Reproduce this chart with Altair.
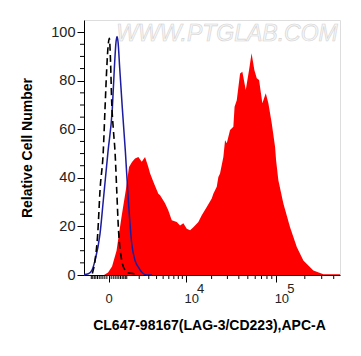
import altair as alt
import pandas as pd

FONT = "Liberation Sans"

# ---- data (x in fluorescence units, y in % of max) ----
red_x = [-241, -45, 141, 372, 660, 949, 1161, 1387, 1630, 1921, 2243, 2582, 2947, 3149,
         3654, 4252, 4508, 5319, 5911, 6572, 7642, 8423, 9270, 10211, 11202, 12274,
         14070, 15415, 17605, 20070, 20925, 22857, 23820, 24871, 27075, 28272, 29526,
         32091, 34865, 35948, 37981, 41249, 43662, 47519, 51566, 54853, 58748, 62339,
         65949, 71516, 77710, 82802, 89946, 97451, 99902, 105583, 119187, 140144,
         164806, 193154, 245670, 312265, 465000]
red_y = [0, 1, 3.5, 10, 24, 35.5, 44.5, 46.5, 48, 48.6, 46.6, 48.6, 44.5, 41.9,
         37.7, 33.5, 32.8, 29.5, 26.6, 22.5, 21.8, 20.4, 21.3, 19, 18.4, 19.7,
         21.8, 24.6, 28, 31.5, 33.5, 36.3, 40.4, 41.8, 48.6, 55.5, 54.2,
         59.7, 61, 69.3, 72, 83, 83.7, 76.2, 84.4, 91.3, 84.4, 81,
         80.3, 70.7, 74.8, 70.7, 62.4, 52.8, 47.3, 39, 29.4, 19.7,
         11.5, 6, 1.9, 0.3, 0.3]

blue_x = [-1549, -1212, -950, -752, -454, -277, -45, 155, 256, 345, 399, 455, 552, 709,
          903, 1110, 1364, 1630, 1921, 2273, 2768, 3395]
blue_y = [0.2, 0.5, 2, 6, 17, 30.8, 51, 68.6, 85, 96, 98.2, 96, 85, 68.6,
          51, 30.8, 12.9, 6, 3.2, 1, 0, 0]

dash_x = [-929, -752, -587, -454, -277, -190, -107, -45, 14, 69, 126, 205, 292, 382,
          472, 672, 882, 1110, 1467, 1893]
dash_y = [0.6, 6, 17, 35, 51.4, 68.6, 85, 94, 97.5, 88, 71, 60, 50.7, 35,
          19.7, 6, 2, 0.8, 0.6, 0]

x_major = [0, 10000, 100000]
x_minor = ([-1000, -900, -800, -700, -600, -500, -400, -300, -200, -100]
           + [100, 200, 300, 400, 500, 600, 700, 800, 900]
           + [1000, 2000, 3000, 4000, 5000, 6000, 7000, 8000, 9000]
           + [20000, 30000, 40000, 50000, 60000, 70000, 80000, 90000]
           + [200000, 300000, 400000])
y_major = [0, 20, 40, 60, 80, 100]
y_minor = [5, 10, 15, 25, 30, 35, 45, 50, 55, 65, 70, 75, 85, 90, 95]

x_label_vals = [0, 10000, 100000]
x_label_base = ["0", "10", "10"]
x_label_sup = ["", "4", "5"]

watermark = ["WWW.PTGLAB.COM"]

# ---- scales / axes ----
xscale = alt.Scale(type="symlog", constant=1900, domain=[-1550, 465000], nice=False)
yscale = alt.Scale(domain=[0, 105], nice=False, zero=False)

x_axis = alt.Axis(values=x_major, labels=False, tickSize=7, tickColor="black",
                  domainColor="black", grid=False,
                  title="CL647-98167(LAG-3/CD223),APC-A", titleFont=FONT,
                  titleFontSize=14, titleFontWeight="bold", titleColor="black",
                  titleX=125, titleY=50, titleBaseline="middle")
y_axis = alt.Axis(values=y_major, tickSize=7, tickColor="black", domainColor="black",
                  grid=False, labelFont=FONT, labelFontSize=14.5, labelColor="#222222",
                  labelPadding=2, title="Relative Cell Number", titleFont=FONT,
                  titleFontSize=14, titleFontWeight="bold", titleColor="black",
                  titleX=-57, titleBaseline="middle")

X = lambda f: alt.X(f, type="quantitative", scale=xscale, axis=x_axis)
Y = lambda f: alt.Y(f, type="quantitative", scale=yscale, axis=y_axis)

red_df = pd.DataFrame({"x": red_x, "y": red_y})
blue_df = pd.DataFrame({"x": blue_x, "y": blue_y})
dash_df = pd.DataFrame({"x": dash_x, "y": dash_y})

wm = alt.Chart(pd.DataFrame({"t": watermark})).mark_text(
    font=FONT, fontSize=23, fontStyle="italic", fill="#f7f7f7", stroke="#d2d2d2",
    strokeWidth=0.6, align="center", baseline="alphabetic"
).encode(text="t:N", x=alt.value(143), y=alt.value(21))

red = alt.Chart(red_df).mark_area(color="#ff0000", interpolate="linear").encode(
    x=X("x"), y=Y("y"))

blue = alt.Chart(blue_df).mark_line(color="#1c1ca0", strokeWidth=1.5,
                                    interpolate="monotone").encode(x=X("x"), y=Y("y"))

dash = alt.Chart(dash_df).mark_line(color="black", strokeWidth=1.6, strokeDash=[7, 4],
                                    interpolate="monotone").encode(x=X("x"), y=Y("y"))

xminor = alt.Chart(pd.DataFrame({"v": x_minor})).mark_rule(color="black").encode(
    x=X("v"), y=alt.value(255), y2=alt.value(259))

yminor = alt.Chart(pd.DataFrame({"v": y_minor})).mark_rule(color="black").encode(
    y=Y("v"), x=alt.value(-4), x2=alt.value(0))

lab_df = pd.DataFrame({"v": x_label_vals, "b": x_label_base, "s": x_label_sup})
lab0 = alt.Chart(lab_df[lab_df["v"] == 0]).mark_text(
    font=FONT, fontSize=13, color="#222222", align="center", baseline="alphabetic"
).encode(x=X("v"), y=alt.value(283), text="b:N")
lab10 = alt.Chart(lab_df[lab_df["v"] > 0]).mark_text(
    font=FONT, fontSize=13, color="#222222", align="left", baseline="alphabetic", dx=-1.5
).encode(x=X("v"), y=alt.value(283), text="b:N")
labsup = alt.Chart(lab_df[lab_df["v"] > 0]).mark_text(
    font=FONT, fontSize=13, color="#222222", align="left", baseline="alphabetic", dx=11
).encode(x=X("v"), y=alt.value(273), text="s:N")

chart = alt.layer(wm, red, blue, dash, xminor, yminor, lab0, lab10, labsup).properties(
    width=256, height=255,
    autosize=alt.AutoSizeParams(type="none"),
    padding={"left": 76, "top": 12, "right": 13, "bottom": 73},
).configure_view(stroke="black", strokeWidth=1).configure(background="white")

chart.save("out.html", embed_options={"renderer": "svg", "actions": False})
